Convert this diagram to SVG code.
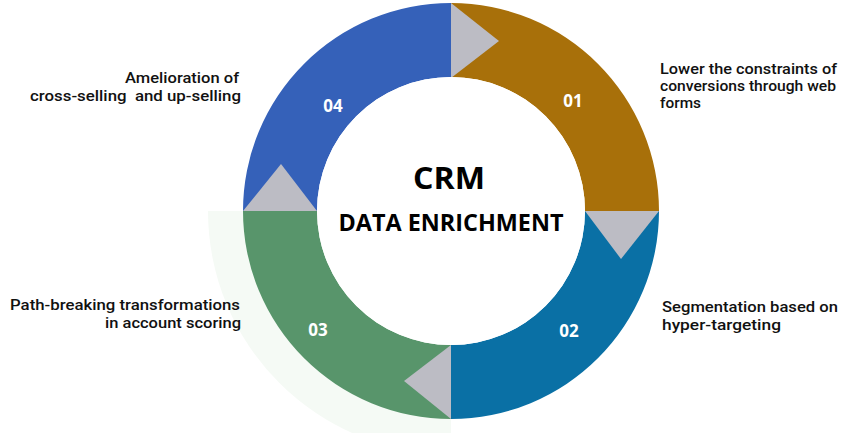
<svg xmlns="http://www.w3.org/2000/svg" width="858" height="433" viewBox="0 0 858 433">
<style>
.lbl{font-family:Roboto,"Liberation Sans",sans-serif;font-weight:500;font-size:14px;fill:#111111}
.num{font-family:"Open Sans","Liberation Sans",sans-serif;font-weight:700;font-size:17px;fill:#ffffff}
.title{font-family:"Open Sans","Liberation Sans",sans-serif;font-weight:700;fill:#000000;text-anchor:middle}
.tri{fill:#BCBCC4}
</style>
<rect width="858" height="433" fill="#ffffff"/>
<path d="M208,211 A243,243 0 0 0 451,454 L451,211 Z" fill="#F5FAF5"/>
<g id="seg01">
<path d="M451,3 A208,208 0 0 1 659,211 L585,211 A134,134 0 0 0 451,77 Z" fill="#A8700A"/>
<text class="num" x="573" y="107" text-anchor="middle">01</text>
<text class="lbl" x="660" y="74" textLength="177" lengthAdjust="spacingAndGlyphs">Lower the constraints of</text>
<text class="lbl" x="660" y="91" textLength="176" lengthAdjust="spacingAndGlyphs">conversions through web</text>
<text class="lbl" x="660" y="108" textLength="41" lengthAdjust="spacingAndGlyphs">forms</text>
</g>
<g id="seg02">
<path d="M659,211 A208,208 0 0 1 451,419 L451,345 A134,134 0 0 0 585,211 Z" fill="#0A70A5"/>
<text class="num" x="569" y="337" text-anchor="middle">02</text>
<text class="lbl" x="662" y="312" textLength="176" lengthAdjust="spacingAndGlyphs">Segmentation based on</text>
<text class="lbl" x="662" y="330" textLength="119" lengthAdjust="spacingAndGlyphs">hyper-targeting</text>
</g>
<g id="seg03">
<path d="M451,419 A208,208 0 0 1 243,211 L317,211 A134,134 0 0 0 451,345 Z" fill="#58956B"/>
<text class="num" x="318" y="336" text-anchor="middle">03</text>
<text class="lbl" x="240" y="310" text-anchor="end" textLength="230" lengthAdjust="spacingAndGlyphs">Path-breaking transformations</text>
<text class="lbl" x="241" y="328" text-anchor="end" textLength="136" lengthAdjust="spacingAndGlyphs">in account scoring</text>
</g>
<g id="seg04">
<path d="M243,211 A208,208 0 0 1 451,3 L451,77 A134,134 0 0 0 317,211 Z" fill="#3561B9"/>
<text class="num" x="333" y="112" text-anchor="middle">04</text>
<text class="lbl" x="239" y="83" text-anchor="end" textLength="114" lengthAdjust="spacingAndGlyphs">Amelioration of</text>
<text class="lbl" x="241" y="101" text-anchor="end" textLength="211" lengthAdjust="spacingAndGlyphs" xml:space="preserve">cross-selling  and up-selling</text>
</g>
<g id="connectors">
<polygon class="tri" points="451,3 499,41 451,78"/>
<polygon class="tri" points="585,211 659,211 621,259"/>
<polygon class="tri" points="451,345 451,419 404,381"/>
<polygon class="tri" points="243,211 317,211 281,164"/>
</g>
<g id="center">
<circle cx="451" cy="211" r="134" fill="#ffffff"/>
<text class="title" x="449" y="189" font-size="31" textLength="72" lengthAdjust="spacingAndGlyphs">CRM</text>
<text class="title" x="451" y="231" font-size="23" textLength="225" lengthAdjust="spacingAndGlyphs">DATA ENRICHMENT</text>
</g>
</svg>
